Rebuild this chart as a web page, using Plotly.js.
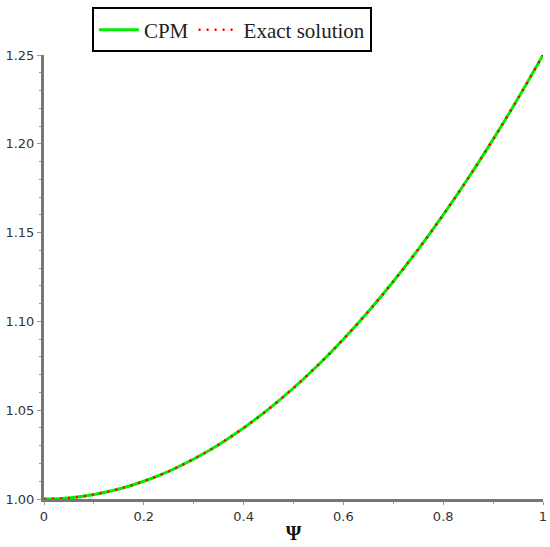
<!DOCTYPE html>
<html>
<head>
<meta charset="utf-8">
<script src="https://cdn.plot.ly/plotly-3.0.1.min.js"></script>
<style>html,body{margin:0;padding:0;background:#fff;}#chart{width:550px;height:547px;}</style>
</head>
<body>
<div id="chart"></div>
<script>
const psi = [0, 0.05, 0.1, 0.15, 0.2, 0.25, 0.3, 0.35, 0.4, 0.45, 0.5, 0.55, 0.6, 0.65, 0.7, 0.75, 0.8, 0.85, 0.9, 0.95, 1];
const cpm = [1.000, 1.0006, 1.0025, 1.0056, 1.010, 1.0156, 1.0225, 1.0306, 1.040, 1.0506, 1.0625, 1.0756, 1.090, 1.1056, 1.1225, 1.1406, 1.160, 1.1806, 1.2025, 1.2256, 1.250];
const exact = [1.000, 1.0006, 1.0025, 1.0056, 1.010, 1.0156, 1.0225, 1.0306, 1.040, 1.0506, 1.0625, 1.0756, 1.090, 1.1056, 1.1225, 1.1406, 1.160, 1.1806, 1.2025, 1.2256, 1.250];
const seriesNames = ['CPM', 'Exact solution'];
const xTicks = [0, 0.2, 0.4, 0.6, 0.8, 1];
const xTickText = ['0', '0.2', '0.4', '0.6', '0.8', '1'];
const yTicks = [1.00, 1.05, 1.10, 1.15, 1.20, 1.25];
const yTickText = ['1.00', '1.05', '1.10', '1.15', '1.20', '1.25'];

const traces = [
  {x: psi, y: cpm, name: seriesNames[0], mode: 'lines', line: {color: '#00ee00', width: 3, shape: 'spline'}},
  {x: psi, y: exact, name: seriesNames[1], mode: 'lines', line: {color: '#ff0000', width: 2.5, dash: '2px,6px', shape: 'spline'}}
];
const tickFont = {family: 'DejaVu Sans, sans-serif', size: 13, color: '#333'};
const layout = {
  width: 550, height: 547,
  margin: {l: 44, r: 7, t: 52, b: 48},
  paper_bgcolor: '#fff', plot_bgcolor: '#fff',
  showlegend: true,
  legend: {
    orientation: 'h', x: 0.096, xanchor: 'left', y: 1.107, yanchor: 'top',
    bordercolor: '#000', borderwidth: 2, bgcolor: '#fff',
    font: {family: 'Liberation Serif, serif', size: 21, color: '#222'},
    itemwidth: 40, tracegroupgap: 0
  },
  xaxis: {
    range: [0, 1], tickvals: xTicks, ticktext: xTickText,
    showgrid: false, zeroline: false, showline: true, linecolor: '#777', linewidth: 3,
    ticks: 'outside', ticklen: 3, tickcolor: '#999', tickfont: tickFont,
    minor: {dtick: 0.1, ticks: 'outside', ticklen: 2, tickcolor: '#999', showgrid: false},
    title: {text: '<b>Ψ</b>', font: {family: 'Liberation Serif, serif', size: 20, color: '#111'}, standoff: 4}
  },
  yaxis: {
    range: [1.0, 1.25], tickvals: yTicks, ticktext: yTickText,
    showgrid: false, zeroline: false, showline: true, linecolor: '#777', linewidth: 3,
    ticks: 'outside', ticklen: 4, tickcolor: '#999', tickfont: tickFont,
    minor: {dtick: 0.01, ticks: 'outside', ticklen: 2, tickcolor: '#999', showgrid: false}
  }
};
Plotly.newPlot('chart', traces, layout, {displayModeBar: false, staticPlot: true});
</script>
</body>
</html>
